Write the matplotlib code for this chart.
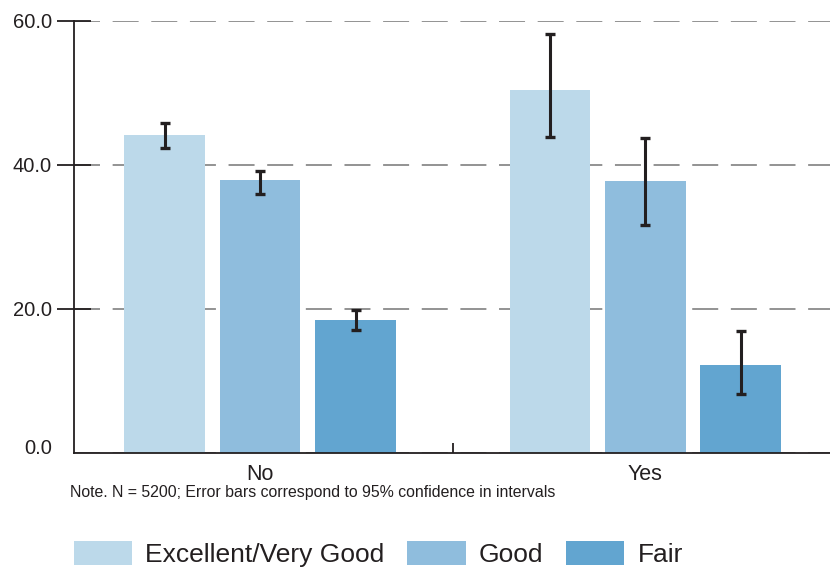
import numpy as np
import matplotlib.pyplot as plt
import matplotlib.transforms as mtransforms

plt.rcParams['font.family'] = ['Liberation Sans', 'DejaVu Sans']

# data
groups = ['No', 'Yes']
ratings = ['Excellent/Very Good', 'Good', 'Fair']
colors = ['#bcd9ea', '#8fbddd', '#62a5d0']
values = {
    'Excellent/Very Good': [44.2, 50.4],
    'Good': [37.9, 37.8],
    'Fair': [18.5, 12.2],
}
ci_low = {
    'Excellent/Very Good': [42.3, 43.9],
    'Good': [36.0, 31.7],
    'Fair': [17.1, 8.2],
}
ci_high = {
    'Excellent/Very Good': [45.9, 58.2],
    'Good': [39.2, 43.8],
    'Fair': [19.8, 17.0],
}
yticks = [0, 20, 40, 60]

fig = plt.figure(figsize=(8.3, 5.72), dpi=100)
ax = fig.add_axes([74 / 830, 119 / 572, 756 / 830, 432 / 572])

x = np.arange(len(groups))
offsets = [-0.247, 0.0, 0.248]
width = 0.21
for r, c, off in zip(ratings, colors, offsets):
    v = np.array(values[r])
    lo = v - np.array(ci_low[r])
    hi = np.array(ci_high[r]) - v
    ax.bar(x + off, v, width, color=c, label=r, zorder=2)
    ax.errorbar(x + off, v, yerr=[lo, hi], fmt='none', ecolor='#231f20',
                elinewidth=2.2, capsize=3.7, capthick=2.4, zorder=3)

ax.set_ylim(0, 60)
ax.set_xlim(-0.483, 1.48)
ax.set_yticks(yticks)
ax.set_yticklabels(['%.1f' % t for t in yticks])
ax.yaxis.grid(True, color='#8a8a8a', linestyle=(0, (14.4, 7.0)), linewidth=1.3, zorder=0)
ax.set_axisbelow(True)

ax.set_xticks(x)
ax.set_xticklabels(groups)
ax.set_xticks([0.5], minor=True)
ax.tick_params(axis='x', which='major', length=0, pad=8, labelsize=15.5, colors='#231f20')
ax.tick_params(axis='x', which='minor', direction='in', length=7, width=1.3, color='#231f20')
ax.tick_params(axis='y', direction='inout', length=24, width=1.3, pad=4,
               labelsize=14.5, colors='#231f20')

# hide the tick at zero and raise its label slightly
ax.yaxis.get_major_ticks()[0].tick1line.set_visible(False)
lab0 = ax.get_yticklabels()[0]
lab0.set_transform(lab0.get_transform() + mtransforms.ScaledTranslation(0, 7 / 100, fig.dpi_scale_trans))

for s in ['top', 'right']:
    ax.spines[s].set_visible(False)
for s in ['left', 'bottom']:
    ax.spines[s].set_color('#231f20')
    ax.spines[s].set_linewidth(1.3)

fig.text(70 / 830, 1 - 493 / 572,
         'Note. N = 5200; Error bars correspond to 95% confidence in intervals',
         fontsize=11.4, color='#231f20', va='center', ha='left')

leg = fig.legend(loc='center left', bbox_to_anchor=(74 / 830, 1 - 554 / 572), ncol=3,
                 frameon=False, fontsize=19, handlelength=2.2, handleheight=1.05,
                 handletextpad=0.5, columnspacing=0.87, borderpad=0, borderaxespad=0)
for t in leg.get_texts():
    t.set_color('#231f20')

fig.savefig('out.png', dpi=100)
